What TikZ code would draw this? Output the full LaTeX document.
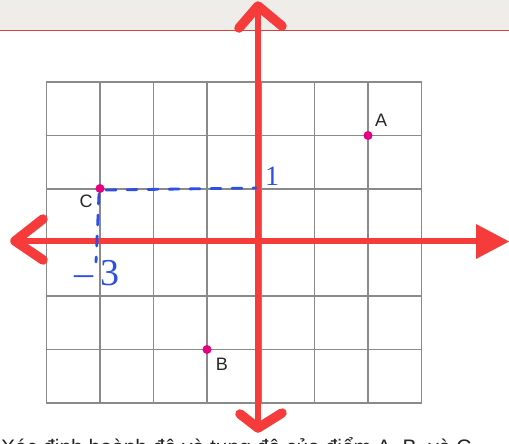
\documentclass[tikz,border=0pt]{standalone}
\usepackage{fontspec}
\setmainfont{Liberation Sans}
\newfontfamily\handfont{Liberation Serif}
\definecolor{axisred}{HTML}{F63B3B}
\definecolor{bandgrey}{HTML}{EFEDEA}
\definecolor{bandred}{HTML}{D8403E}
\definecolor{gridgrey}{HTML}{8A8A8A}
\definecolor{ptmag}{HTML}{E4007F}
\definecolor{penblue}{HTML}{2D4FE3}
\tikzset{
  axisline/.style={draw=axisred, line width=6pt},
  chevron/.style={draw=axisred, line width=9.5pt, line cap=round, line join=round},
  gridline/.style={draw=gridgrey, line width=1.4pt},
  dot/.style={circle, fill=ptmag, inner sep=0pt, minimum size=9pt},
  ptlabel/.style={font=\fontsize{18}{18}\selectfont, text=black!85, inner sep=0pt},
  penline/.style={draw=penblue, line width=2.8pt, dash pattern=on 10pt off 11pt, line cap=round},
  pentext/.style={text=penblue, inner sep=0pt}
}
\begin{document}
\begin{tikzpicture}[x=1pt,y=-1pt]
\useasboundingbox (0,0) rectangle (509,444);
\fill[white] (0,0) rectangle (509,444);
% top band
\fill[bandgrey] (0,0) rectangle (509,30);
\draw[bandred, line width=1.6pt] (0,30.5) -- (509,30.5);
% grid
\foreach \i in {0,...,7} {
  \draw[gridline] (46.3+\i*53.63,82) -- (46.3+\i*53.63,403);
}
\foreach \j in {0,...,6} {
  \draw[gridline] (46.3,82+\j*53.5) -- (421.7,82+\j*53.5);
}
% axes
\coordinate (ytop) at (258,6);
\coordinate (ybot) at (258,428);
\coordinate (xleft) at (15,241);
\coordinate (xright) at (478,241);
\draw[axisline] (ytop) -- (ybot);
\draw[axisline] (xleft) -- (xright);
% arrowheads
\draw[chevron] (239,28) -- (ytop) -- (282,26);
\draw[chevron] (240,414) -- (ybot) -- (282,413);
\draw[chevron] (43,219) -- (xleft) -- (43,260);
\fill[axisred] (476,224) -- (509,241.5) -- (476,259) -- cycle;
% blue pen marks
\coordinate (cpt) at (100,189);
\coordinate (yax) at (256,188);
\coordinate (xax) at (96,262);
\draw[penline] (106,190) -- (yax);
\draw[penline] (99,194) -- (xax);
\node[pentext, font=\handfont\fontsize{28}{28}\selectfont] (one) at (272,176) {1};
\node[pentext, font=\handfont\fontsize{38}{38}\selectfont] (mthree) at (97,273) {–\,3};
% points
\node[dot] (A) at (368,135.5) {};
\node[dot] (B) at (207,349.5) {};
\node[dot] (C) at (100,188.5) {};
\node[ptlabel] (lA) at (381,120) {A};
\node[ptlabel] (lB) at (222,364) {B};
\node[ptlabel] (lC) at (86,201) {C};
% bottom (cut) caption
\begin{scope}
\clip (0,0) rectangle (509,444);
\node[anchor=base west, inner sep=0pt, font=\fontsize{21}{21}\selectfont, text=black!85] (cap) at (1,454) {Xác định hoành độ và tung độ của điểm A, B, và C};
\end{scope}
\end{tikzpicture}
\end{document}
